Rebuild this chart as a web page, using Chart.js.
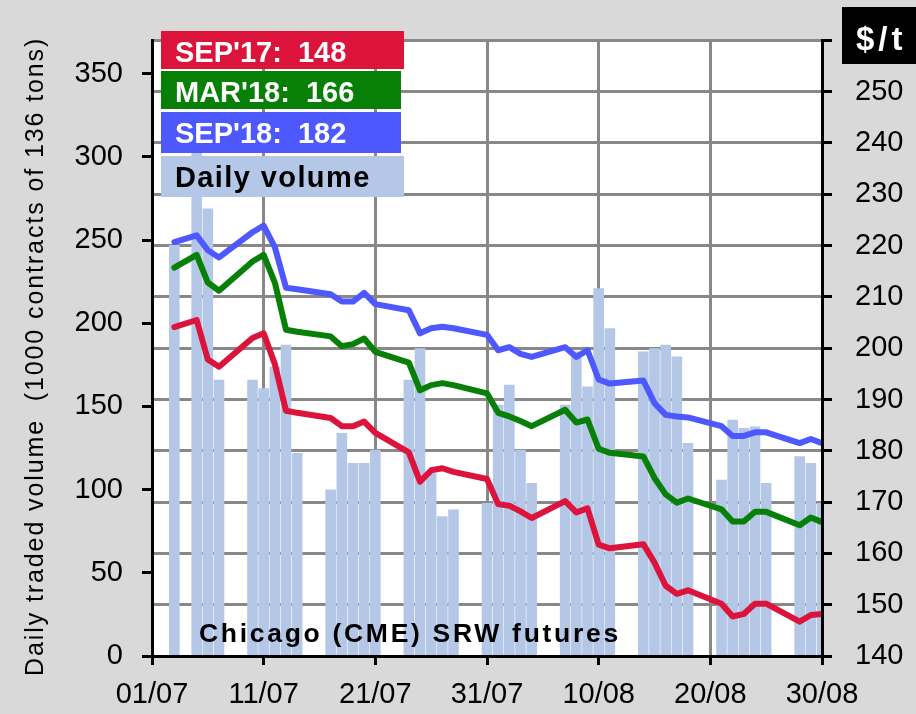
<!DOCTYPE html>
<html><head><meta charset="utf-8">
<script src="https://cdn.jsdelivr.net/npm/chart.js@4.4.1/dist/chart.umd.min.js"></script>
<style>html,body{margin:0;background:#d9d9d9}</style>
</head><body>
<canvas id="c" width="916" height="714"></canvas>
<script>
// trading days shown (dd/mm, 2017)
const dates=['03/07','05/07','06/07','07/07','10/07','11/07','12/07','13/07','14/07','17/07','18/07','19/07','20/07','21/07','24/07','25/07','26/07','27/07','28/07','31/07',
 '01/08','02/08','03/08','04/08','07/08','08/08','09/08','10/08','11/08','14/08','15/08','16/08','17/08','18/08','21/08','22/08','23/08','24/08','25/08','28/08','29/08','30/08'];
// daily volume, 1000 contracts
const volume=[247,305,269,166,166,161,174,187,122,100,134,116,116,124,166,185,110,84,88,92,
 151,163,124,104,151,183,162,221,197,183,185,187,180,128,106,142,137,138,104,120,116,92];
// $/t
const sep17=[204.1,205.5,197.8,196.4,202.0,202.9,196.9,187.8,187.4,186.4,184.8,184.8,185.7,183.5,179.7,174.0,176.2,176.6,175.9,174.5,
 169.6,169.3,168.2,166.9,170.2,168.0,168.8,161.7,161.0,161.8,158.2,153.7,152.1,152.8,150.2,147.7,148.2,150.2,150.2,146.7,148.0,148.2];
const mar18=[215.7,218.2,212.8,211.2,216.9,218.2,212.8,203.6,203.2,202.3,200.4,200.8,201.9,199.3,197.2,191.8,192.8,193.2,192.8,191.2,
 187.4,186.7,185.8,184.8,188.0,185.5,186.1,180.4,179.6,178.9,174.7,171.5,169.9,170.7,168.6,166.2,166.2,168.1,168.1,165.5,167.0,166.1];
const sep18=[220.7,222.0,219.1,217.7,222.6,223.9,219.7,211.8,211.5,210.5,209.1,209.1,210.8,208.6,207.4,202.9,203.9,204.2,203.9,202.6,
 199.6,200.2,198.9,198.3,200.2,198.3,199.6,193.9,193.1,193.7,189.3,187.0,186.7,186.5,184.8,182.9,182.9,183.6,183.6,181.5,182.3,181.5];
const xTicks=['01/07','11/07','21/07','31/07','10/08','20/08','30/08'];
const legendLabels=["SEP'17:  148","MAR'18:  166","SEP'18:  182",'Daily volume'];
const yTitle='Daily traded volume  (1000 contracts of 136 tons)';
const colors=['#dc143c','#088008','#4d58ff','#b4c7e7'];

// days since 01/07
const dayOf=s=>{const [d,m]=s.split('/').map(Number); return m===7? d-1 : 30+d;};
const pts=arr=>dates.map((s,i)=>({x:dayOf(s),y:arr[i]}));

Chart.defaults.font.family='"Liberation Sans", Arial, sans-serif';
Chart.defaults.color='#000';

const deco={
  id:'deco',
  beforeDraw(c){
    const {ctx,chartArea:a}=c;
    ctx.save(); ctx.fillStyle='#d9d9d9'; ctx.fillRect(0,0,c.width,c.height);
    ctx.fillStyle='#fff'; ctx.fillRect(a.left,a.top,a.right-a.left,a.bottom-a.top); ctx.restore();
  },
  afterDraw(c){
    const ctx=c.ctx; ctx.save();
    const tops=[31,71,112,156], hs=[38,38,41,41], ws=[243,240,240,243], bases=[62,102,143,187];
    legendLabels.forEach((t,i)=>{
      ctx.fillStyle=colors[i]; ctx.fillRect(161,tops[i],ws[i],hs[i]);
      ctx.fillStyle= i<3?'#fff':'#000'; ctx.font='bold 29px "Liberation Sans", Arial';
      ctx.letterSpacing= i<3?'0px':'1.4px';
      ctx.fillText(t,175,bases[i]);
    });
    ctx.letterSpacing='2.7px'; ctx.fillStyle='#000'; ctx.font='bold 26.5px "Liberation Sans", Arial';
    ctx.fillText('Chicago (CME) SRW futures',199,642);
    ctx.fillStyle='#000'; ctx.fillRect(842,7,74,57);
    ctx.letterSpacing='4px'; ctx.fillStyle='#fff'; ctx.font='bold 33px "Liberation Sans", Arial';
    ctx.fillText('$/t',856,50);
    // left axis title, spaced like the original
    ctx.translate(43,676); ctx.rotate(-Math.PI/2);
    ctx.letterSpacing='1.9px'; ctx.fillStyle='#000'; ctx.font='25px "Liberation Sans", Arial';
    ctx.fillText(yTitle,0,0);
    ctx.restore();
  }
};

const line=(label,arr,col)=>({type:'line',label,data:pts(arr),yAxisID:'y2',borderColor:col,borderWidth:6,
  pointRadius:0,tension:0,borderJoinStyle:'round',borderCapStyle:'round',order:1});

new Chart(document.getElementById('c'),{
  type:'bar',
  data:{datasets:[
    line(legendLabels[0],sep17,colors[0]),
    line(legendLabels[1],mar18,colors[1]),
    line(legendLabels[2],sep18,colors[2]),
    {type:'bar',label:legendLabels[3],data:pts(volume),yAxisID:'y',backgroundColor:colors[3],barPercentage:0.95,categoryPercentage:1,order:2}
  ]},
  options:{
    responsive:false,animation:false,devicePixelRatio:1,
    layout:{padding:{top:30,left:0,right:0,bottom:0}},
    plugins:{legend:{display:false},tooltip:{enabled:false}},
    scales:{
      x:{type:'linear',min:0,max:60,offset:false,
        ticks:{stepSize:10,autoSkip:false,maxRotation:0,font:{size:29},padding:13,callback:v=>xTicks[v/10]},
        grid:{offset:false,color:'#888',lineWidth:3,tickColor:'#000',tickWidth:3,tickLength:9},
        border:{color:'#000',width:3,z:1},
        afterFit:s=>{s.height=58;}},
      y:{position:'left',min:0,max:370,
        ticks:{stepSize:50,includeBounds:false,font:{size:29},padding:19},
        grid:{drawOnChartArea:false,tickColor:'#000',tickWidth:3,tickLength:10},
        border:{color:'#000',width:3,z:1},
        afterFit:s=>{s.width=152;}},
      y2:{position:'right',min:140,max:260,
        ticks:{stepSize:10,font:{size:29},padding:23,callback:v=>v===260?'':v},
        grid:{color:'#888',lineWidth:3,tickColor:'#000',tickWidth:3,tickLength:10},
        border:{color:'#000',width:3,z:1},
        afterFit:s=>{s.width=94;}}
    }
  },
  plugins:[deco]
});
</script>
</body></html>
